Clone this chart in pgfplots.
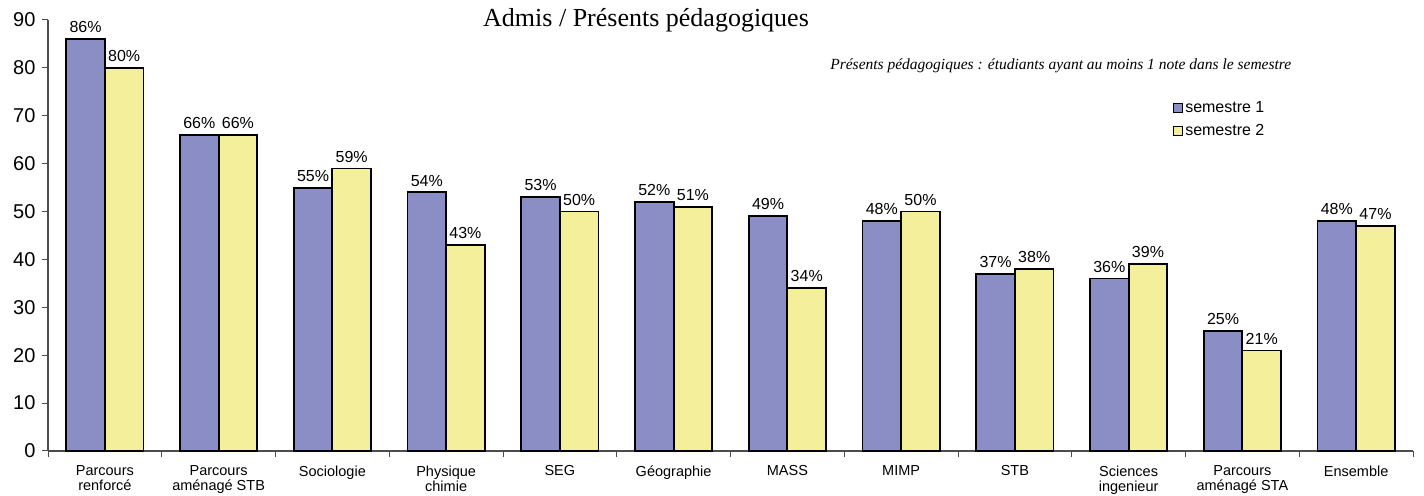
\documentclass[border=0pt]{standalone}
\usepackage{pgfplots}
\pgfplotsset{compat=1.18}
\usepackage{fontspec}
\setmainfont{Liberation Sans}
\newfontfamily\serif{Liberation Serif}
\definecolor{sem1}{HTML}{8B8EC5}
\definecolor{sem2}{HTML}{F4EF9A}

\begin{document}
\begin{tikzpicture}
\begin{axis}[
  scale only axis,
  width=1365pt, height=431pt,
  xmin=-0.5, xmax=11.5, ymin=0, ymax=90,
  enlarge x limits=false,
  ybar=0pt, bar width=0.34,
  clip=false,
  axis x line=bottom, axis y line=left,
  axis line style={-, black!70, line width=1.2pt},
  tick align=outside,
  ytick={0,10,...,90},
  major tick length=6pt,
  minor tick length=6pt,
  tick style={black!70, line width=1pt},
  xtick={0,...,11},
  major x tick style={draw=none},
  minor xtick={-0.5,0.5,...,11.5},
  xticklabels={{Parcours\\renforcé},{Parcours\\aménagé STB},Sociologie,{Physique\\chimie},SEG,Géographie,MASS,MIMP,STB,{Sciences\\ingenieur},{Parcours\\aménagé STA},Ensemble},
  xticklabel style={align=center, font=\fontsize{14.5}{15}\selectfont, anchor=north, yshift=-5pt},
  yticklabel style={font=\fontsize{20}{20}\selectfont, xshift=-3pt},
  /pgf/number format/assume math mode=true,
  nodes near coords={\pgfmathprintnumber{\pgfplotspointmeta}\%},
  every node near coord/.append style={font=\fontsize{16}{16}\selectfont, black, yshift=2pt},
  legend style={at={(rel axis cs:0.822,0.82)}, anchor=north west, draw=none, fill=none,
    font=\fontsize{16}{16}\selectfont, row sep=6pt},
  legend cell align=left,
  legend image code/.code={\draw[#1, draw=black, line width=1pt] (0pt,-4.5pt) rectangle (9pt,4.5pt);},
]
\addplot[fill=sem1, draw=black, line width=1.8pt] coordinates {
  (0,86) (1,66) (2,55) (3,54) (4,53) (5,52) (6,49) (7,48) (8,37) (9,36) (10,25) (11,48)
};
\addlegendentry{semestre 1}
\addplot[fill=sem2, draw=black, line width=1.8pt] coordinates {
  (0,80) (1,66) (2,59) (3,43) (4,50) (5,51) (6,34) (7,50) (8,38) (9,39) (10,21) (11,47)
};
\addlegendentry{semestre 2}
\coordinate (bl) at (rel axis cs:0,0);
\coordinate (tr) at (rel axis cs:1,1);
\node[anchor=base west, inner sep=0pt, font=\serif\fontsize{26}{26}\selectfont] at (rel axis cs:0.3187,0.984) {Admis / Présents pédagogiques};
\node[anchor=base west, inner sep=0pt, font=\serif\itshape\fontsize{15.5}{15.5}\selectfont] at (rel axis cs:0.573,0.886) {Présents pédagogiques : étudiants ayant au moins 1 note dans le semestre};
\end{axis}
\pgfresetboundingbox
\path (bl) ++(-48pt,-45pt) rectangle ([shift={(11pt,20pt)}]tr);
\end{tikzpicture}
\end{document}
